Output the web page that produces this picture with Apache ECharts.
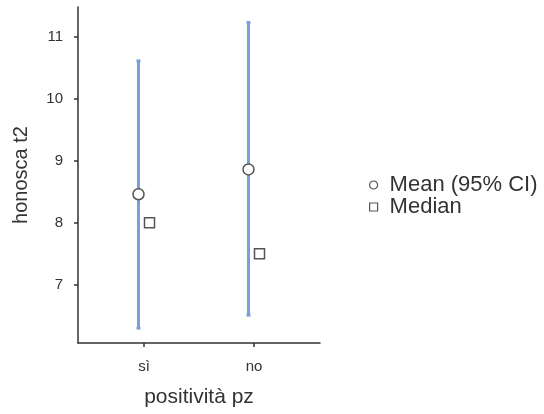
<!DOCTYPE html>
<html>
<head>
<meta charset="utf-8">
<script src="https://cdn.jsdelivr.net/npm/echarts@6/dist/echarts.min.js"></script>
<style>
  html, body { margin: 0; padding: 0; background: #fff; }
  #chart { width: 544px; height: 414px; }
</style>
</head>
<body>
<div id="chart"></div>
<script>
// data
const categories = ['sì', 'no']
const means = [8.46, 8.86]
const ciLower = [6.30, 6.51]
const ciUpper = [10.61, 11.23]
const medians = [8.0, 7.5]
const yTicks = [7, 8, 9, 10, 11]

// dodge so mean and median don't overlap
const dodge = 0.05

const chart = echarts.init(document.getElementById('chart'))

const font = '"Liberation Sans", Arial, sans-serif'
const errColor = '#7b9fd8'

const option = {
  animation: false,
  textStyle: { fontFamily: font },
  grid: { left: 78, right: 224, top: 7, bottom: 71 },
  legend: {
    orient: 'vertical',
    left: 364,
    top: 169,
    itemGap: 0,
    itemWidth: 8,
    itemHeight: 8,
    textStyle: { fontSize: 22, color: '#333', fontFamily: font, padding: [0, 0, 0, 7] },
    data: [
      { name: 'Mean (95% CI)', icon: 'circle', itemStyle: { color: '#fff', borderColor: '#555', borderWidth: 1.2 } },
      { name: 'Median', icon: 'rect', itemStyle: { color: '#fff', borderColor: '#555', borderWidth: 1.2 } }
    ]
  },
  xAxis: {
    type: 'value',
    min: 0.4,
    max: 2.6,
    name: 'positività pz',
    nameLocation: 'middle',
    nameGap: 44,
    nameTextStyle: { fontSize: 21, color: '#333' },
    splitLine: { show: false },
    axisLine: { show: true, lineStyle: { color: '#333', width: 1.5 } },
    axisTick: { show: true, customValues: [1, 2], length: 4, lineStyle: { color: '#333', width: 1.5 } },
    axisLabel: {
      customValues: [1, 2],
      fontSize: 15,
      color: '#333',
      margin: 16,
      formatter: v => categories[Math.round(v) - 1] || ''
    }
  },
  yAxis: {
    type: 'value',
    min: 6.06,
    max: 11.48,
    name: 'honosca t2',
    nameLocation: 'middle',
    nameGap: 47,
    nameRotate: 90,
    nameTextStyle: { fontSize: 20, color: '#333' },
    splitLine: { show: false },
    axisLine: { show: true, lineStyle: { color: '#333', width: 1.5 } },
    axisTick: { show: true, customValues: yTicks, length: 4, lineStyle: { color: '#333', width: 1.5 } },
    axisLabel: { customValues: yTicks, fontSize: 15, color: '#333', margin: 15 }
  },
  series: [
    {
      name: 'CI',
      type: 'custom',
      z: 2,
      data: categories.map((c, i) => [i + 1 - dodge, ciLower[i], ciUpper[i]]),
      renderItem: function (params, api) {
        const x = api.value(0)
        const lo = api.coord([x, api.value(1)])
        const hi = api.coord([x, api.value(2)])
        const cap = 2
        const style = { stroke: errColor, lineWidth: 3 }
        return {
          type: 'group',
          children: [
            { type: 'line', shape: { x1: lo[0], y1: lo[1], x2: hi[0], y2: hi[1] }, style: style },
            { type: 'line', shape: { x1: lo[0] - cap, y1: lo[1], x2: lo[0] + cap, y2: lo[1] }, style: style },
            { type: 'line', shape: { x1: hi[0] - cap, y1: hi[1], x2: hi[0] + cap, y2: hi[1] }, style: style }
          ]
        }
      }
    },
    {
      name: 'Mean (95% CI)',
      type: 'scatter',
      z: 3,
      symbol: 'circle',
      symbolSize: 11,
      itemStyle: { color: '#fff', borderColor: '#555', borderWidth: 1.5, opacity: 1 },
      data: categories.map((c, i) => [i + 1 - dodge, means[i]])
    },
    {
      name: 'Median',
      type: 'scatter',
      z: 3,
      symbol: 'rect',
      symbolSize: 10,
      itemStyle: { color: '#fff', borderColor: '#555', borderWidth: 1.5, opacity: 1 },
      data: categories.map((c, i) => [i + 1 + dodge, medians[i]])
    }
  ]
}

chart.setOption(option)
</script>
</body>
</html>
